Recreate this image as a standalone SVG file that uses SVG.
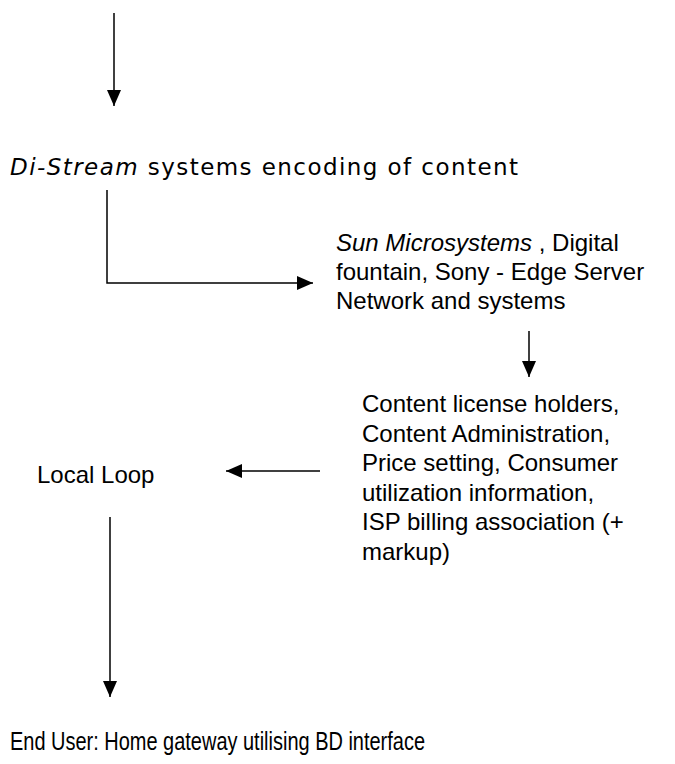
<svg xmlns="http://www.w3.org/2000/svg" width="675" height="764" viewBox="0 0 675 764">
<style>
.a{font-family:"Liberation Sans",Arial,sans-serif;font-size:24px;fill:#000}
.v{font-family:"DejaVu Sans",Verdana,sans-serif;font-size:23px;fill:#000}
.n{font-family:"Liberation Sans",Arial,sans-serif;font-size:25px;fill:#000}
.c{stroke:#000;stroke-width:1.5;fill:none}
</style>
<defs>
<marker id="ahl" viewBox="0 0 16 14" refX="16" refY="7" markerWidth="16" markerHeight="14" markerUnits="userSpaceOnUse" orient="auto">
<path d="M0,0 L16,7 L0,14 z" fill="#000"/>
</marker>
</defs>
<g id="connectors">
<path class="c" d="M114,13 V106" marker-end="url(#ahl)"/>
<path class="c" d="M107,190 V283 H313" marker-end="url(#ahl)"/>
<path class="c" d="M529,331 V377" marker-end="url(#ahl)"/>
<path class="c" d="M320,471 H226" marker-end="url(#ahl)"/>
<path class="c" d="M110,517 V697" marker-end="url(#ahl)"/>
</g>
<g id="distream">
<text class="v" x="10" y="175" textLength="508"><tspan font-style="italic">Di-Stream</tspan> systems encoding of content</text>
</g>
<g id="sun">
<text class="a" x="336" y="251"><tspan font-style="italic">Sun Microsystems</tspan> , Digital</text>
<text class="a" x="336" y="280">fountain, Sony - Edge Server</text>
<text class="a" x="336" y="309">Network and systems</text>
</g>
<g id="content">
<text class="a" x="362" y="412">Content license holders,</text>
<text class="a" x="362" y="441.5">Content Administration,</text>
<text class="a" x="362" y="471">Price setting, Consumer</text>
<text class="a" x="362" y="500.5">utilization information,</text>
<text class="a" x="362" y="530">ISP billing association (+</text>
<text class="a" x="362" y="559.5">markup)</text>
</g>
<g id="localloop">
<text class="a" x="37" y="483">Local Loop</text>
</g>
<g id="enduser">
<text class="n" x="10" y="750" textLength="415" lengthAdjust="spacingAndGlyphs">End User: Home gateway utilising BD interface</text>
</g>
</svg>
